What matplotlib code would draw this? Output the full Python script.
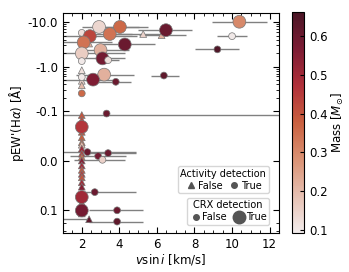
import numpy as np
import matplotlib
matplotlib.use("Agg")
import matplotlib.pyplot as plt
from matplotlib.colors import LinearSegmentedColormap, Normalize
from matplotlib.lines import Line2D
from matplotlib.ticker import FixedLocator, FormatStrFormatter, MultipleLocator

# datos
vsini = [2.92, 4.03, 2.0, 2.43, 3.49, 6.48, 5.27, 6.25, 2.1, 2.39,
         4.29, 2.0, 3.0, 3.1, 3.4, 2.0, 2.0, 3.19, 2.6, 2.0,
         2.0, 2.0, 3.81, 6.37, 2.0, 10.39, 10.0, 9.22, 2.0, 3.32,
         2.0, 2.0, 2.0, 2.0, 2.0, 2.0, 2.3, 2.87, 3.4, 3.1,
         2.0, 2.0, 2.0, 2.0, 2.0, 2.0, 2.0, 2.0, 2.0, 2.0,
         2.69, 2.0, 2.0, 2.0, 2.0, 2.0, 2.0, 3.88, 2.39, 3.88]
pew = [-7.8, -7.8, -5.75, -4.85, -5.4, -6.6, -5.4, -5.1, -3.5, -3.3,
       -3.15, -1.98, -2.35, -1.53, -1.4, -1.33, -0.83, -0.66, -0.51, -0.58,
       -0.48, -0.38, -0.455, -0.63, -0.25, -10.2, -4.84, -2.44, -0.092, -0.095,
       -0.068, -0.082, -0.058, -0.047, -0.037, -0.032, -0.017, -0.009, -0.015, -0.0014,
       -0.024, -0.014, -0.007, 0.0, 0.010, 0.019, 0.027, 0.034, 0.044, 0.053,
       0.064, 0.074, 0.103, 0.075, 0.085, 0.1, 0.12, 0.102, 0.162, 0.183]
mass = [0.14, 0.36, 0.12, 0.43, 0.34, 0.60, 0.15, 0.22, 0.34, 0.22,
        0.60, 0.16, 0.22, 0.58, 0.12, 0.10, 0.12, 0.22, 0.56, 0.10,
        0.15, 0.20, 0.60, 0.62, 0.36, 0.30, 0.10, 0.65, 0.40, 0.60,
        0.46, 0.42, 0.40, 0.38, 0.36, 0.20, 0.60, 0.58, 0.60, 0.15,
        0.50, 0.45, 0.35, 0.55, 0.50, 0.40, 0.45, 0.40, 0.50, 0.55,
        0.60, 0.50, 0.58, 0.40, 0.45, 0.42, 0.50, 0.60, 0.62, 0.62]
activity = [1, 1, 1, 1, 1, 1, 0, 0, 1, 0,
            1, 1, 1, 1, 1, 1, 0, 1, 1, 1,
            0, 0, 1, 1, 1, 1, 1, 1, 0, 1,
            1, 0, 0, 0, 0, 0, 1, 1, 1, 1,
            0, 0, 0, 0, 0, 0, 0, 0, 0, 0,
            1, 1, 1, 0, 0, 0, 0, 1, 0, 1]
crx = [1, 1, 0, 1, 1, 1, 0, 0, 1, 0,
       1, 1, 1, 1, 0, 0, 0, 1, 1, 0,
       0, 0, 0, 0, 0, 1, 0, 0, 0, 0,
       1, 0, 0, 0, 0, 0, 0, 0, 0, 0,
       0, 0, 0, 0, 0, 0, 0, 0, 0, 0,
       0, 1, 1, 0, 0, 0, 0, 0, 0, 0]
xerr_lo = [0.9, 1.0, 0, 1.4, 0.8, 1.5, 1.5, 1.2, 1.1, 0,
           1.2, 1.0, 1.2, 1.0, 0.6, 0, 0, 1.5, 1.6, 0,
           0, 0, 1.0, 0.7, 0, 1.47, 0.8, 1.17, 1.0, 0,
           0, 0, 0, 0, 0, 0, 1.3, 1.5, 1.2, 1.5,
           0, 0, 0, 0, 0, 0, 0, 0, 0, 0,
           0.75, 0, 0, 0, 0, 0, 0, 1.5, 1.4, 1.5]
xerr_hi = [2.6, 1.0, 0, 2.5, 1.2, 1.4, 1.0, 1.3, 1.5, 0,
           1.6, 2.3, 1.5, 1.2, 0.6, 0, 0, 1.6, 1.3, 0,
           0, 0, 0.8, 0.8, 0, 1.46, 0.8, 1.17, 10.5, 0,
           0, 0, 0, 0, 0, 0, 2.6, 1.5, 1.5, 1.2,
           0, 0, 0, 0, 0, 0, 0, 0, 0, 0,
           2.2, 0, 0, 0, 0, 0, 0, 1.4, 0.0, 1.4]

vsini = np.array(vsini)
pew = np.array(pew)
mass = np.array(mass)
activity = np.array(activity, dtype=bool)
crx = np.array(crx, dtype=bool)

cmap = LinearSegmentedColormap.from_list(
    "masa", ["#f2ecec", "#e6c0b2", "#da9274", "#c9603f", "#b0303a", "#7c1c34", "#4a1626"])
norm = Normalize(vmin=0.092, vmax=0.662)

plt.rcParams["font.size"] = 8.5
fig = plt.figure(figsize=(3.49, 2.72), dpi=100)
ax = fig.add_axes([0.1805, 0.1434, 0.619, 0.8086])
cax = fig.add_axes([0.8367, 0.1434, 0.0344, 0.8125])

ax.errorbar(vsini, pew, xerr=[xerr_lo, xerr_hi], fmt="none", ecolor="#808080",
            elinewidth=1.0, zorder=1)

sizes = np.where(crx, 85, 24)
for act, mk in [(False, "^"), (True, "o")]:
    sel = activity == act
    ax.scatter(vsini[sel], pew[sel], c=mass[sel], s=sizes[sel], marker=mk, cmap=cmap,
               norm=norm, edgecolors="#777777", linewidths=0.5, zorder=2)

ax.set_yscale("symlog", linthresh=0.1, linscale=1.0)
ax.set_ylim(0.33, -16)
ax.set_xlim(1.0, 12.5)
ax.yaxis.set_major_locator(FixedLocator([-10, -1, -0.1, 0.0, 0.1]))
ax.yaxis.set_major_formatter(FormatStrFormatter("%.1f"))
minors = [s * d for d in [-10, -1, -0.1] for s in range(2, 10)] + [s * 0.1 for s in range(2, 4)]
ax.yaxis.set_minor_locator(FixedLocator(minors))
ax.xaxis.set_major_locator(MultipleLocator(2))
ax.xaxis.set_minor_locator(MultipleLocator(0.5))
ax.tick_params(which="both", direction="in", top=True, right=True)
ax.tick_params(which="major", length=4)
ax.tick_params(which="minor", length=2)
ax.set_xlabel("$v\\sin i$ [km/s]", labelpad=1)
ax.set_ylabel("pEW'(H$\\alpha$) [Å]", labelpad=1)

cb = fig.colorbar(plt.cm.ScalarMappable(norm=norm, cmap=cmap), cax=cax)
cb.set_ticks([0.1, 0.2, 0.3, 0.4, 0.5, 0.6])
cb.set_label("Mass [$M_{\\odot}$]", labelpad=2)
cb.ax.tick_params(direction="in", length=3)

h1 = [Line2D([], [], marker="^", ls="", color="#555555", markersize=4),
      Line2D([], [], marker="o", ls="", color="#555555", markersize=4)]
leg1 = ax.legend(h1, ["False", "True"], title="Activity detection", ncol=2,
                 loc="lower right", bbox_to_anchor=(0.975, 0.16), fontsize=7,
                 title_fontsize=7, handletextpad=0.1, columnspacing=0.6,
                 borderpad=0.25, labelspacing=0.2, handlelength=1.2)
ax.add_artist(leg1)
h2 = [Line2D([], [], marker="o", ls="", color="#555555", markersize=4),
      Line2D([], [], marker="o", ls="", color="#555555", markersize=9)]
ax.legend(h2, ["False", "True"], title="CRX detection", ncol=2,
          loc="lower right", bbox_to_anchor=(0.975, 0.015), fontsize=7,
          title_fontsize=7, handletextpad=0.1, columnspacing=0.6,
          borderpad=0.25, labelspacing=0.2, handlelength=1.2)

fig.savefig("out.png", dpi=100)
